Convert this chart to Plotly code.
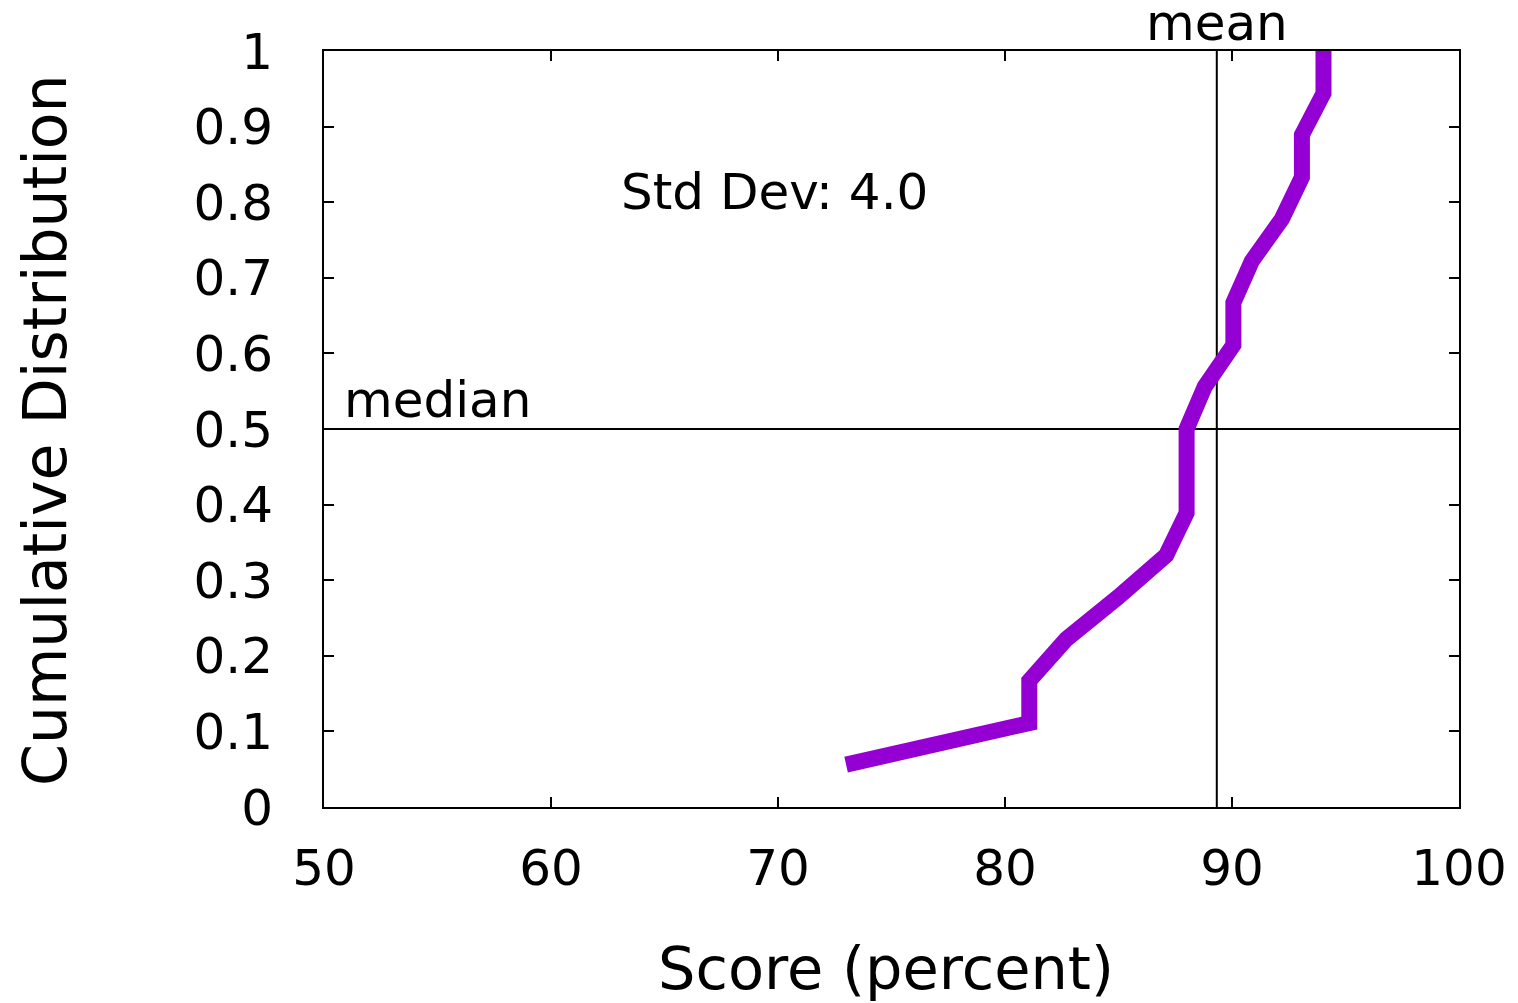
import plotly.graph_objects as go

# Cumulative distribution
score = [73.0, 81.07, 81.07, 82.7, 85.0, 87.1, 88.0, 88.0, 88.0, 88.8,
         90.06, 90.06, 90.87, 92.2, 93.08, 93.08, 94.03, 94.03]
cdf = [0.056, 0.111, 0.167, 0.222, 0.278, 0.333, 0.389, 0.444, 0.5, 0.556,
       0.611, 0.667, 0.722, 0.778, 0.833, 0.889, 0.944, 1.0]

mean_score = 89.33
median_level = 0.5
std_dev_text = "Std Dev: 4.0"

x_ticks = [50, 60, 70, 80, 90, 100]
x_tick_labels = ["50", "60", "70", "80", "90", "100"]
y_ticks = [0, 0.1, 0.2, 0.3, 0.4, 0.5, 0.6, 0.7, 0.8, 0.9, 1.0]
y_tick_labels = ["0", "0.1", "0.2", "0.3", "0.4", "0.5", "0.6", "0.7", "0.8", "0.9", "1"]
x_range = [50, 100]
y_range = [0, 1]

FONT = "DejaVu Sans"
fig = go.Figure()

# mean vertical line
fig.add_trace(go.Scatter(x=[mean_score, mean_score], y=y_range, mode="lines",
                         line=dict(color="black", width=2), hoverinfo="skip",
                         showlegend=False))
# median horizontal line
fig.add_trace(go.Scatter(x=x_range, y=[median_level, median_level], mode="lines",
                         line=dict(color="black", width=2), hoverinfo="skip",
                         showlegend=False))
# CDF line
fig.add_trace(go.Scatter(x=score, y=cdf, mode="lines",
                         line=dict(color="#9400D3", width=16),
                         showlegend=False, cliponaxis=False))

fig.update_layout(
    width=1510, height=995,
    margin=dict(l=316, r=59, t=43, b=196),
    plot_bgcolor="white", paper_bgcolor="white",
    font=dict(family=FONT, size=50, color="black"),
    showlegend=False,
)
fig.update_xaxes(range=x_range, tickvals=x_ticks, ticktext=x_tick_labels,
                 ticks="inside", ticklen=10, tickwidth=2, tickcolor="black",
                 showline=True, linecolor="black", linewidth=2, mirror="ticks",
                 showgrid=False, zeroline=False, ticklabelstandoff=16,
                 tickfont=dict(family=FONT, size=50, color="black"))
fig.update_yaxes(range=y_range, tickvals=y_ticks, ticktext=y_tick_labels,
                 ticks="inside", ticklen=10, tickwidth=2, tickcolor="black",
                 showline=True, linecolor="black", linewidth=2, mirror="ticks",
                 showgrid=False, zeroline=False, ticklabelstandoff=39,
                 tickfont=dict(family=FONT, size=50, color="black"))

annotations = [
    dict(text="mean", x=mean_score, y=1.0, xref="x", yref="paper",
         xanchor="center", yanchor="bottom", yshift=-3, showarrow=False,
         font=dict(family=FONT, size=50, color="black")),
    dict(text="median", x=50.8, y=median_level, xref="x", yref="y",
         xanchor="left", yanchor="bottom", yshift=-2, showarrow=False,
         font=dict(family=FONT, size=50, color="black")),
    dict(text=std_dev_text, x=69.86, y=0.813, xref="x", yref="y",
         xanchor="center", yanchor="middle", showarrow=False,
         font=dict(family=FONT, size=50, color="black")),
    dict(text="Score (percent)", x=0.495, y=-0.213, xref="paper", yref="paper",
         xanchor="center", yanchor="middle", showarrow=False,
         font=dict(family=FONT, size=59, color="black")),
    dict(text="Cumulative Distribution", x=-0.2458, y=0.4987, xref="paper", yref="paper",
         xanchor="center", yanchor="middle", textangle=-90, showarrow=False,
         font=dict(family=FONT, size=60, color="black")),
]
fig.update_layout(annotations=annotations)

fig.write_html("out.html")
